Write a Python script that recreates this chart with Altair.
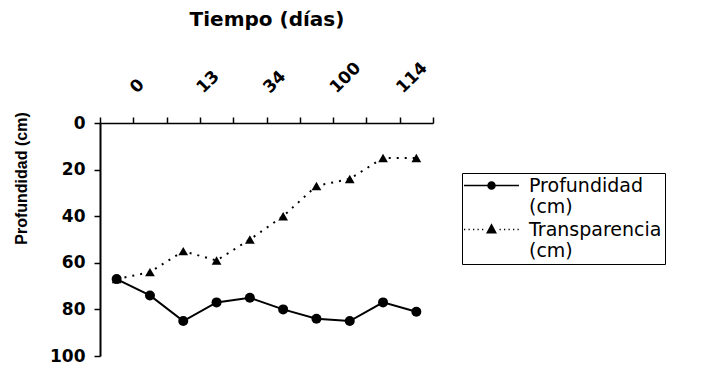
import altair as alt
import pandas as pd

# ---- data ----
muestra = [1, 2, 3, 4, 5, 6, 7, 8, 9, 10]
etiquetas_x = ["0", "", "13", "", "34", "", "100", "", "114", ""]
profundidad = [67, 74, 85, 77, 75, 80, 84, 85, 77, 81]
transparencia = [67, 64, 55, 59, 50, 40, 27, 24, 15, 15]
series = ["Profundidad (cm)", "Transparencia (cm)"]

rows = []
for m, p, t in zip(muestra, profundidad, transparencia):
    rows.append({"muestra": m, "serie": series[0], "valor": p})
    rows.append({"muestra": m, "serie": series[1], "valor": t})
df = pd.DataFrame(rows)

label_expr = "[" + ",".join("'%s'" % s for s in etiquetas_x) + "][datum.value - 1]"

x_enc = alt.X(
    "muestra:O",
    scale=alt.Scale(type="band", paddingInner=0, paddingOuter=0),
    axis=alt.Axis(
        orient="top",
        title="Tiempo (días)",
        titleFont="DejaVu Sans",
        titleFontSize=20,
        titleFontWeight="bold",
        titleColor="black",
        titleY=-98,
        titleBaseline="alphabetic",
        labelExpr=label_expr,
        labelAngle=-45,
        labelAlign="left",
        labelBaseline="middle",
        labelOffset=16,
        labelPadding=27,
        labelFont="DejaVu Sans",
        labelFontSize=17,
        labelFontWeight="bold",
        labelColor="black",
        tickBand="extent",
        tickSize=6,
        tickColor="black",
        tickWidth=1.5,
        domainColor="black",
        domainWidth=1.5,
        grid=False,
    ),
)

y_enc = alt.Y(
    "valor:Q",
    scale=alt.Scale(domain=[0, 100], reverse=True, nice=False, zero=False),
    axis=alt.Axis(
        values=[0, 20, 40, 60, 80, 100],
        title="Profundidad (cm)",
        titleFont="Liberation Sans Narrow, Liberation Sans",
        titleFontSize=16,
        titleFontWeight="bold",
        titleColor="black",
        titleAngle=-90,
        titleAlign="center",
        titleBaseline="middle",
        titleX=-79,
        titleY=55,
        labelFont="DejaVu Sans",
        labelFontSize=17,
        labelFontWeight="bold",
        labelColor="black",
        labelPadding=9,
        tickSize=6,
        tickColor="black",
        tickWidth=1.5,
        domainColor="black",
        domainWidth=2,
        grid=False,
    ),
)

base = alt.Chart(df)
prof = base.transform_filter(alt.datum.serie == series[0])
trans = base.transform_filter(alt.datum.serie == series[1])

line_prof = prof.mark_line(color="black", strokeWidth=2).encode(x=x_enc, y=y_enc)
line_trans = trans.mark_line(color="black", strokeWidth=2, strokeDash=[2, 6]).encode(x=x_enc, y=y_enc)
pts_prof = prof.mark_point(filled=True, color="black", opacity=1, size=100, shape="circle").encode(x=x_enc, y=y_enc)
pts_trans = trans.mark_point(filled=True, color="black", opacity=1, size=95, shape="triangle-up").encode(x=x_enc, y=y_enc)


# legend glyphs (line + marker), drawn as stroked paths in symbol units
def ring(r):
    return "M%.2f,0A%.2f,%.2f 0 1,1 %.2f,0A%.2f,%.2f 0 1,1 %.2f,0Z" % (r, r, r, -r, r, r, r)


def tri(k):
    return "M0,%.2fL%.2f,%.2fL%.2f,%.2fZ" % (-0.95 * k, 0.85 * k, 0.65 * k, -0.85 * k, 0.65 * k)


sym_prof = "M-5.5,0H5.5" + ring(0.7) + ring(0.45) + ring(0.2)
dots = "".join("M%.2f,0H%.2f" % (x0, x0 + 0.25) for x0 in [-5.5, -4.6, -3.7, -2.8, -1.9, 1.6, 2.5, 3.4, 4.3, 5.2])
sym_trans = dots + tri(1.0) + tri(0.6) + tri(0.25)

legend_layer = base.transform_filter("false").mark_point(
    filled=False, color="black", opacity=1, strokeWidth=1.5
).encode(
    x=x_enc,
    y=y_enc,
    shape=alt.Shape(
        "serie:N",
        scale=alt.Scale(domain=series, range=[sym_prof, sym_trans]),
        legend=alt.Legend(
            title=None,
            orient="none",
            legendX=362,
            legendY=50,
            padding=3,
            strokeColor="black",
            symbolSize=100,
            symbolOffset=17,
            symbolStrokeColor="black",
            symbolStrokeWidth=1.5,
            labelExpr="split(datum.label, ' ')",
            labelFont="DejaVu Sans",
            labelFontSize=19,
            labelColor="black",
            labelOffset=28,
            labelBaseline="middle",
            labelLimit=300,
            rowPadding=3,
        ),
    ),
)

chart = (
    alt.layer(line_prof, line_trans, pts_prof, pts_trans, legend_layer)
    .properties(
        width=333,
        height=233,
        autosize=alt.AutoSizeParams(type="none"),
        padding={"left": 100, "top": 123, "right": 276, "bottom": 13},
        background="white",
    )
    .configure_view(stroke=None)
)

chart.save("out.html", embed_options={"renderer": "svg", "actions": False})
